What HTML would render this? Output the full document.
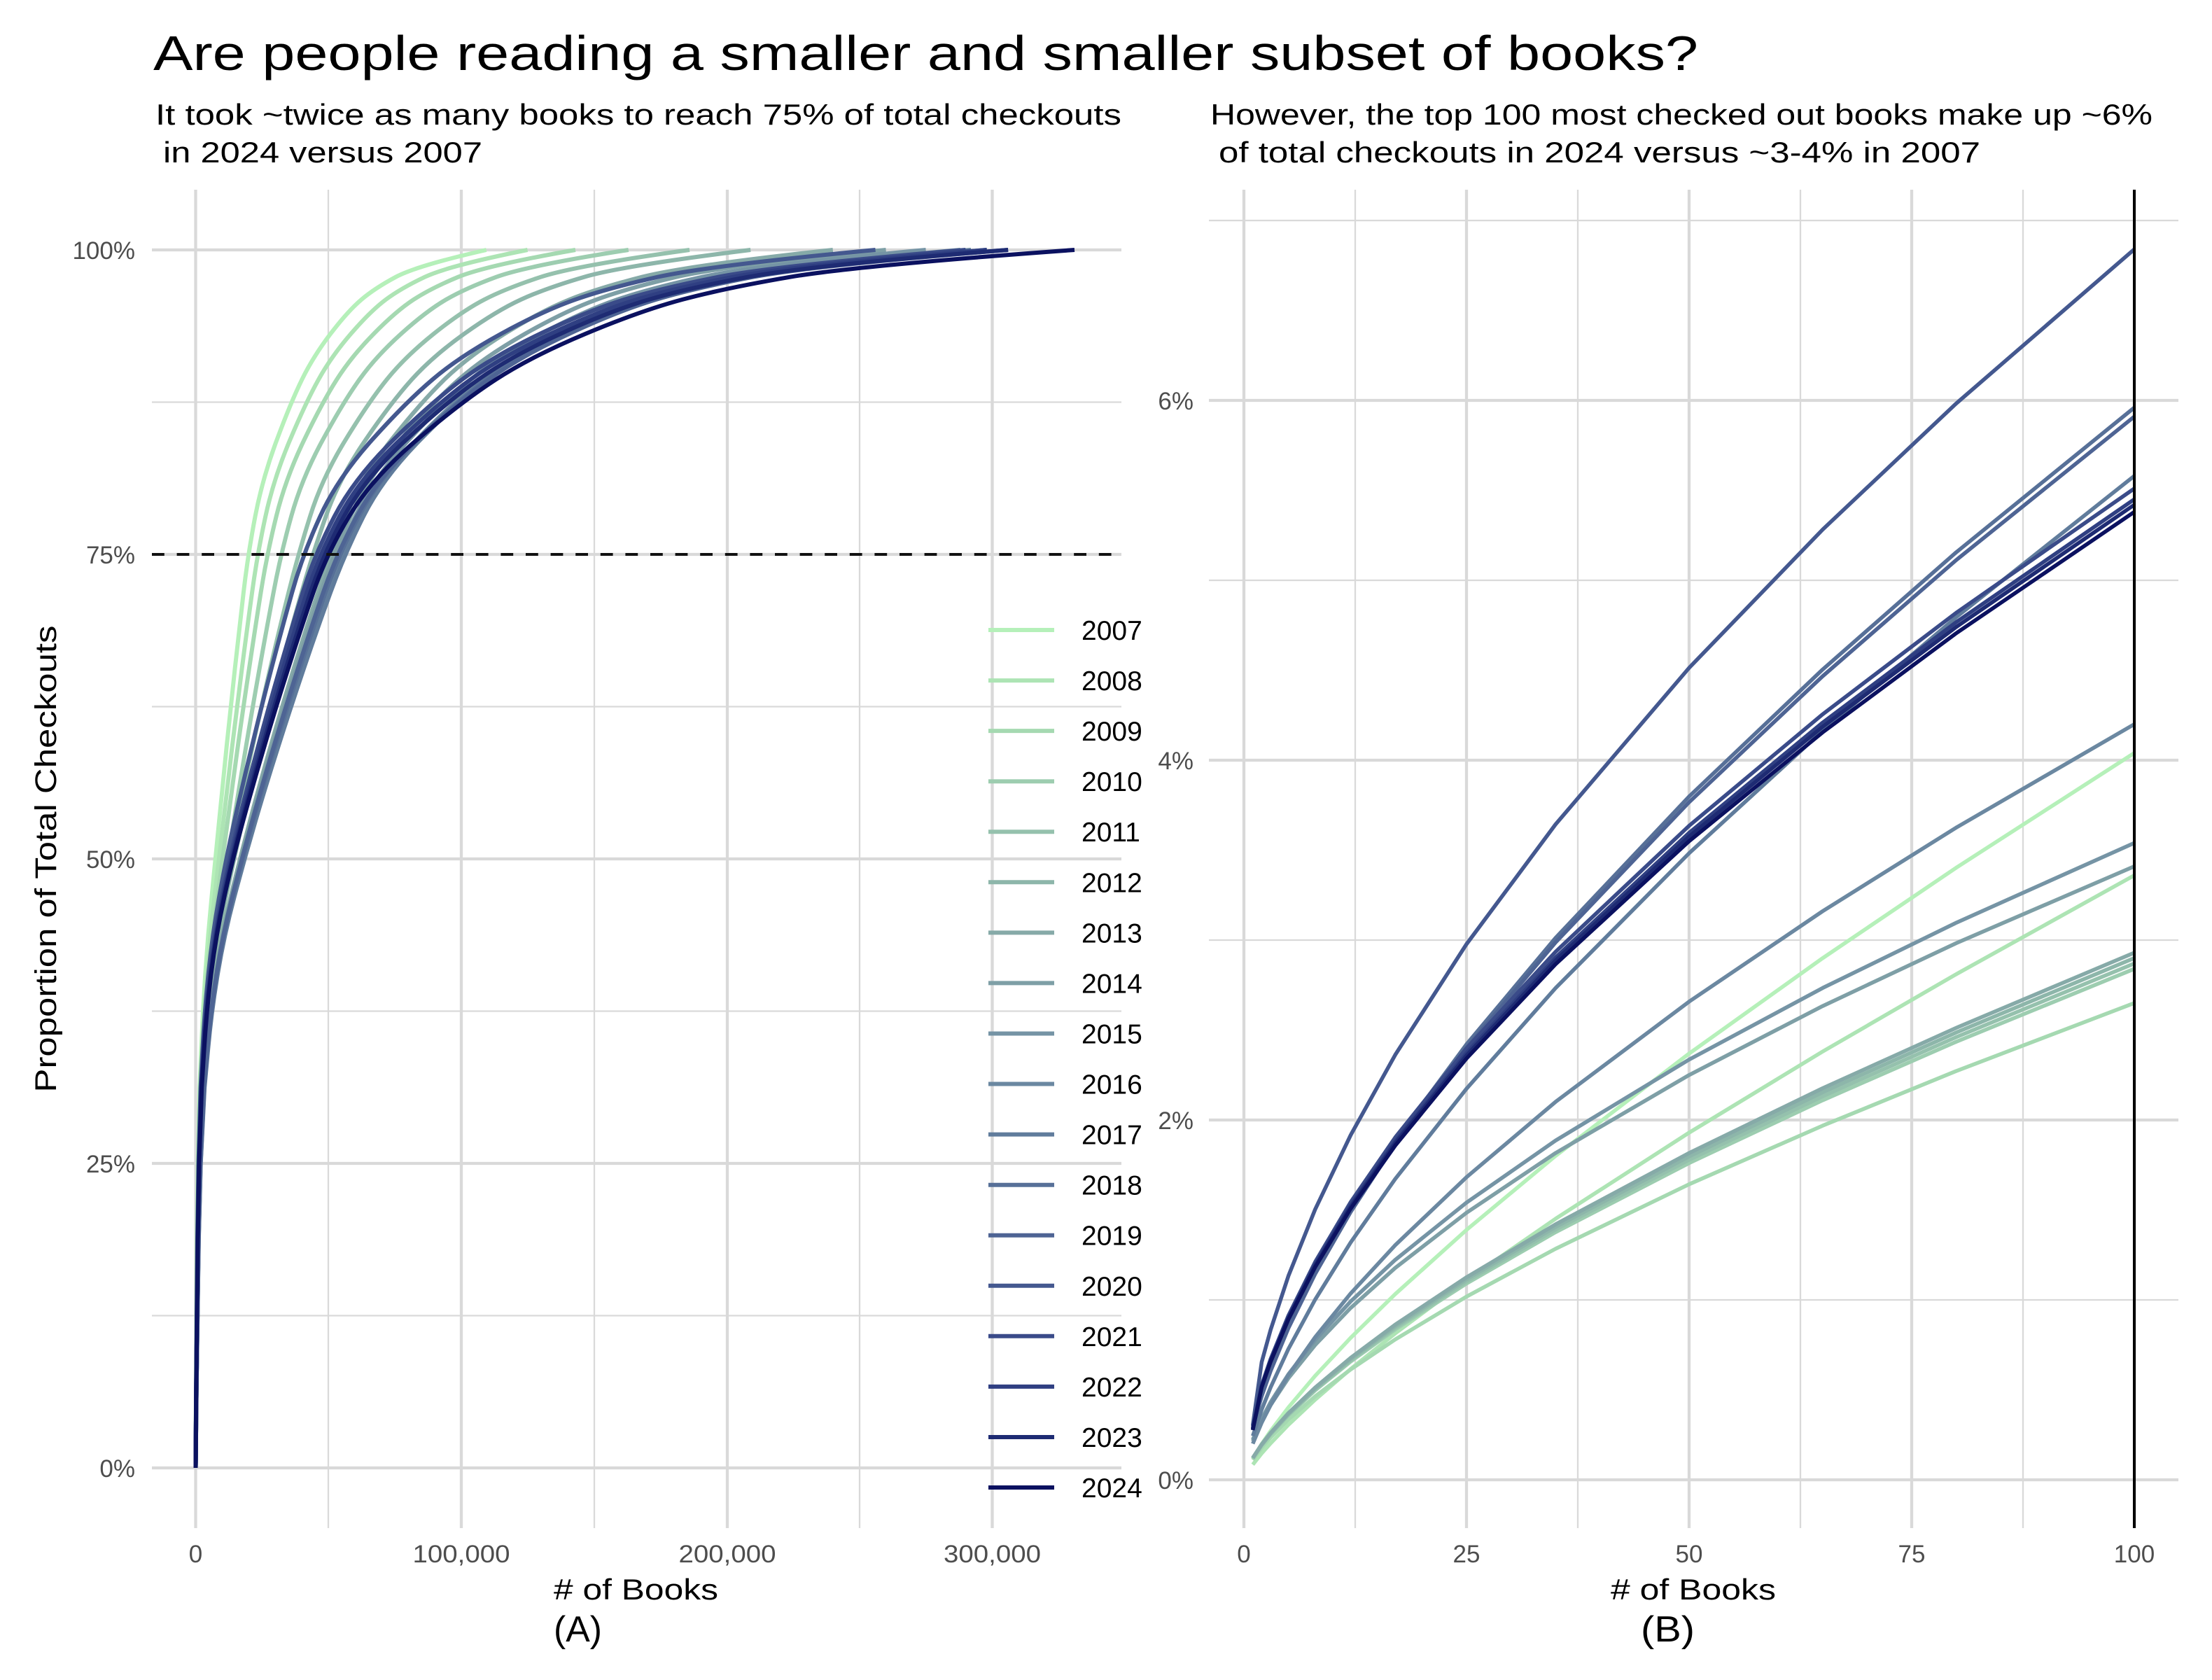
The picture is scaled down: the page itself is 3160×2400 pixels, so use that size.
<!DOCTYPE html>
<html>
<head>
<meta charset="utf-8">
<style>
html,body{margin:0;padding:0;background:#fff;}
svg{display:block;}
text{font-family:"Liberation Sans",sans-serif;}
</style>
</head>
<body>
<svg xmlns="http://www.w3.org/2000/svg" width="3160" height="2400" viewBox="0 0 3160 2400">
<rect width="3160" height="2400" fill="#fff"/>

<!-- Titles -->
<text x="219" y="100" font-size="70" fill="#000" textLength="2207" lengthAdjust="spacingAndGlyphs">Are people reading a smaller and smaller subset of books?</text>
<text x="222" y="178" font-size="42" fill="#000" textLength="1380" lengthAdjust="spacingAndGlyphs">It took ~twice as many books to reach 75% of total checkouts</text>
<text x="233" y="232" font-size="42" fill="#000" textLength="456" lengthAdjust="spacingAndGlyphs">in 2024 versus 2007</text>
<text x="1729" y="178" font-size="42" fill="#000" textLength="1346" lengthAdjust="spacingAndGlyphs">However, the top 100 most checked out books make up ~6%</text>
<text x="1741" y="232" font-size="42" fill="#000" textLength="1088" lengthAdjust="spacingAndGlyphs">of total checkouts in 2024 versus ~3-4% in 2007</text>

<!-- Panel A grid -->
<g stroke="#d9d9d9" fill="none">
  <g stroke-width="2.3">
    <line x1="469" y1="271" x2="469" y2="2183"/>
    <line x1="849" y1="271" x2="849" y2="2183"/>
    <line x1="1228" y1="271" x2="1228" y2="2183"/>
    <line x1="217" y1="1879.5" x2="1602" y2="1879.5"/>
    <line x1="217" y1="1444.5" x2="1602" y2="1444.5"/>
    <line x1="217" y1="1009.5" x2="1602" y2="1009.5"/>
    <line x1="217" y1="574.5" x2="1602" y2="574.5"/>
  </g>
  <g stroke-width="4.3">
    <line x1="279.5" y1="271" x2="279.5" y2="2183"/>
    <line x1="659" y1="271" x2="659" y2="2183"/>
    <line x1="1039" y1="271" x2="1039" y2="2183"/>
    <line x1="1417.5" y1="271" x2="1417.5" y2="2183"/>
    <line x1="217" y1="2097" x2="1602" y2="2097"/>
    <line x1="217" y1="1662" x2="1602" y2="1662"/>
    <line x1="217" y1="1227" x2="1602" y2="1227"/>
    <line x1="217" y1="792" x2="1602" y2="792"/>
    <line x1="217" y1="357" x2="1602" y2="357"/>
  </g>
</g>

<!-- Panel B grid -->
<g stroke="#d9d9d9" fill="none">
  <g stroke-width="2.3">
    <line x1="1936" y1="271" x2="1936" y2="2183"/>
    <line x1="2254" y1="271" x2="2254" y2="2183"/>
    <line x1="2572" y1="271" x2="2572" y2="2183"/>
    <line x1="2890" y1="271" x2="2890" y2="2183"/>
    <line x1="1727" y1="1857" x2="3112" y2="1857"/>
    <line x1="1727" y1="1343" x2="3112" y2="1343"/>
    <line x1="1727" y1="829" x2="3112" y2="829"/>
    <line x1="1727" y1="315" x2="3112" y2="315"/>
  </g>
  <g stroke-width="4.3">
    <line x1="1777" y1="271" x2="1777" y2="2183"/>
    <line x1="2095" y1="271" x2="2095" y2="2183"/>
    <line x1="2413" y1="271" x2="2413" y2="2183"/>
    <line x1="2731" y1="271" x2="2731" y2="2183"/>
    <line x1="3049" y1="271" x2="3049" y2="2183"/>
    <line x1="1727" y1="2114" x2="3112" y2="2114"/>
    <line x1="1727" y1="1600" x2="3112" y2="1600"/>
    <line x1="1727" y1="1086" x2="3112" y2="1086"/>
    <line x1="1727" y1="572" x2="3112" y2="572"/>
  </g>
</g>

<!-- Panel A curves -->
<g fill="none" stroke-width="6" stroke-linejoin="round" stroke-linecap="butt">
<path stroke="#b5f0b9" d="M279.5,2097 L280.0,1988.25 L280.7,1879.5 L281.4,1770.75 L282.7,1662 L285.2,1553.25 L287.5,1498.9 Q289.7,1444.5 293.4,1390.1 Q297.0,1335.75 302.4,1281.4 Q307.8,1227 313.1,1172.6 Q318.4,1118.25 324.0,1063.9 Q329.6,1009.5 335.6,955.1 Q341.6,900.75 347.9,846.4 Q354.2,792 364.6,737.6 Q375.0,683.25 395.3,628.9 Q415.5,574.5 431.5,541.9 Q447.5,509.25 472.4,476.6 Q497.3,444 516.4,427.9 Q535.4,411.8 565.4,395.7 Q595.4,379.6 694.8,357"/>
<path stroke="#ade4b4" d="M279.5,2097 L280.1,1988.25 L280.9,1879.5 L281.8,1770.75 L283.3,1662 L286.2,1553.25 L288.9,1498.9 Q291.5,1444.5 295.8,1390.1 Q300.1,1335.75 306.5,1281.4 Q312.9,1227 319.2,1172.6 Q325.4,1118.25 332.0,1063.9 Q338.6,1009.5 345.6,955.1 Q352.6,900.75 360.1,846.4 Q367.5,792 379.3,737.6 Q391.1,683.25 414.1,628.9 Q437.0,574.5 455.2,541.9 Q473.3,509.25 501.5,476.6 Q529.7,444 551.3,427.9 Q572.9,411.8 606.9,395.7 Q640.9,379.6 753.6,357"/>
<path stroke="#a5d9b1" d="M279.5,2097 L280.2,1988.25 L281.1,1879.5 L282.1,1770.75 L283.9,1662 L287.3,1553.25 L290.3,1498.9 Q293.3,1444.5 298.4,1390.1 Q303.4,1335.75 310.7,1281.4 Q318.0,1227 325.3,1172.6 Q332.5,1118.25 340.1,1063.9 Q347.7,1009.5 355.9,955.1 Q364.0,900.75 372.6,846.4 Q381.2,792 394.7,737.6 Q408.1,683.25 434.3,628.9 Q460.5,574.5 481.3,541.9 Q502.0,509.25 534.2,476.6 Q566.3,444 591.0,427.9 Q615.7,411.8 654.5,395.7 Q693.3,379.6 822.0,357"/>
<path stroke="#9dcdb0" d="M279.5,2097 L280.3,1988.25 L281.4,1879.5 L282.6,1770.75 L284.7,1662 L288.8,1553.25 L292.4,1498.9 Q296.0,1444.5 302.0,1390.1 Q308.0,1335.75 316.8,1281.4 Q325.5,1227 334.1,1172.6 Q342.7,1118.25 351.9,1063.9 Q361.0,1009.5 370.7,955.1 Q380.4,900.75 390.7,846.4 Q400.9,792 416.1,737.6 Q431.2,683.25 460.8,628.9 Q490.3,574.5 513.7,541.9 Q537.0,509.25 573.3,476.6 Q609.6,444 637.4,427.9 Q665.2,411.8 709.0,395.7 Q752.7,379.6 897.8,357"/>
<path stroke="#95c1ad" d="M279.5,2097 L280.3,1988.25 L281.4,1879.5 L282.5,1770.75 L284.5,1662 L288.2,1553.25 L291.7,1498.9 Q295.1,1444.5 301.3,1390.1 Q307.5,1335.75 317.5,1281.4 Q327.5,1227 338.5,1172.6 Q349.4,1118.25 361.4,1063.9 Q373.3,1009.5 386.0,955.1 Q398.6,900.75 412.3,846.4 Q425.9,792 443.0,737.6 Q460.0,683.25 493.3,628.9 Q526.5,574.5 552.8,541.9 Q579.1,509.25 619.9,476.6 Q660.7,444 692.0,427.9 Q723.3,411.8 772.5,395.7 Q821.7,379.6 985.0,357"/>
<path stroke="#8db6aa" d="M279.5,2097 L280.4,1988.25 L281.6,1879.5 L282.9,1770.75 L285.2,1662 L289.5,1553.25 L293.4,1498.9 Q297.2,1444.5 304.3,1390.1 Q311.4,1335.75 322.8,1281.4 Q334.2,1227 346.7,1172.6 Q359.2,1118.25 372.8,1063.9 Q386.4,1009.5 400.9,955.1 Q415.3,900.75 430.9,846.4 Q446.4,792 465.5,737.6 Q484.6,683.25 521.9,628.9 Q559.1,574.5 588.5,541.9 Q617.9,509.25 663.6,476.6 Q709.3,444 744.4,427.9 Q779.4,411.8 834.5,395.7 Q889.5,379.6 1072.2,357"/>
<path stroke="#86aaa8" d="M279.5,2097 L280.6,1988.25 L282.0,1879.5 L283.5,1770.75 L286.1,1662 L291.0,1553.25 L295.5,1498.9 Q300.0,1444.5 308.2,1390.1 Q316.4,1335.75 329.5,1281.4 Q342.6,1227 357.1,1172.6 Q371.5,1118.25 387.2,1063.9 Q402.9,1009.5 419.6,955.1 Q436.3,900.75 454.3,846.4 Q472.2,792 494.1,737.6 Q516.0,683.25 558.7,628.9 Q601.4,574.5 635.1,541.9 Q668.8,509.25 721.2,476.6 Q773.6,444 813.8,427.9 Q854.0,411.8 917.2,395.7 Q980.3,379.6 1189.8,357"/>
<path stroke="#7e9fa6" d="M279.5,2097 L280.6,1988.25 L282.0,1879.5 L283.5,1770.75 L286.2,1662 L291.3,1553.25 L295.9,1498.9 Q300.5,1444.5 308.9,1390.1 Q317.3,1335.75 330.7,1281.4 Q344.1,1227 358.9,1172.6 Q373.7,1118.25 389.8,1063.9 Q405.8,1009.5 422.9,955.1 Q440.0,900.75 458.4,846.4 Q476.7,792 500.8,737.6 Q524.8,683.25 571.8,628.9 Q618.7,574.5 655.8,541.9 Q692.9,509.25 750.5,476.6 Q808.1,444 852.3,427.9 Q896.4,411.8 965.9,395.7 Q1035.3,379.6 1265.6,357"/>
<path stroke="#7594a5" d="M279.5,2097 L280.6,1988.25 L282.1,1879.5 L283.7,1770.75 L286.4,1662 L291.6,1553.25 L296.3,1498.9 Q301.0,1444.5 309.7,1390.1 Q318.3,1335.75 332.1,1281.4 Q345.8,1227 361.0,1172.6 Q376.2,1118.25 392.7,1063.9 Q409.2,1009.5 426.8,955.1 Q444.3,900.75 463.2,846.4 Q482.1,792 507.8,737.6 Q533.4,683.25 583.4,628.9 Q633.4,574.5 672.9,541.9 Q712.4,509.25 773.8,476.6 Q835.1,444 882.2,427.9 Q929.3,411.8 1003.3,395.7 Q1077.2,379.6 1322.6,357"/>
<path stroke="#6b88a1" d="M279.5,2097 L280.6,1988.25 L282.2,1879.5 L283.8,1770.75 L286.6,1662 L291.9,1553.25 L296.8,1498.9 Q301.7,1444.5 310.6,1390.1 Q319.4,1335.75 333.6,1281.4 Q347.8,1227 363.5,1172.6 Q379.1,1118.25 396.1,1063.9 Q413.1,1009.5 431.2,955.1 Q449.2,900.75 468.7,846.4 Q488.1,792 515.1,737.6 Q542.0,683.25 594.6,628.9 Q647.2,574.5 688.8,541.9 Q730.3,509.25 794.8,476.6 Q859.3,444 908.8,427.9 Q958.3,411.8 1036.1,395.7 Q1113.8,379.6 1371.9,357"/>
<path stroke="#607c9c" d="M279.5,2097 L280.7,1988.25 L282.2,1879.5 L283.9,1770.75 L286.7,1662 L292.2,1553.25 L297.2,1498.9 Q302.1,1444.5 311.2,1390.1 Q320.2,1335.75 334.7,1281.4 Q349.1,1227 365.0,1172.6 Q380.9,1118.25 398.3,1063.9 Q415.6,1009.5 434.0,955.1 Q452.3,900.75 472.1,846.4 Q491.9,792 519.2,737.6 Q546.5,683.25 599.8,628.9 Q653.0,574.5 695.1,541.9 Q737.2,509.25 802.6,476.6 Q867.9,444 918.0,427.9 Q968.1,411.8 1046.9,395.7 Q1125.7,379.6 1387.1,357"/>
<path stroke="#577098" d="M279.5,2097 L280.6,1988.25 L282.1,1879.5 L283.7,1770.75 L286.5,1662 L291.7,1553.25 L296.5,1498.9 Q301.3,1444.5 310.0,1390.1 Q318.7,1335.75 332.7,1281.4 Q346.6,1227 362.0,1172.6 Q377.3,1118.25 394.0,1063.9 Q410.7,1009.5 428.4,955.1 Q446.1,900.75 465.2,846.4 Q484.3,792 512.6,737.6 Q540.8,683.25 595.9,628.9 Q650.9,574.5 694.4,541.9 Q737.9,509.25 805.5,476.6 Q873.0,444 924.9,427.9 Q976.7,411.8 1058.1,395.7 Q1139.5,379.6 1409.8,357"/>
<path stroke="#4e6494" d="M279.5,2097 L280.6,1988.25 L282.1,1879.5 L283.6,1770.75 L286.4,1662 L291.5,1553.25 L296.2,1498.9 Q300.9,1444.5 309.5,1390.1 Q318.0,1335.75 331.7,1281.4 Q345.3,1227 360.4,1172.6 Q375.5,1118.25 391.9,1063.9 Q408.3,1009.5 425.7,955.1 Q443.0,900.75 461.8,846.4 Q480.5,792 509.8,737.6 Q539.0,683.25 596.1,628.9 Q653.2,574.5 698.3,541.9 Q743.4,509.25 813.5,476.6 Q883.5,444 937.3,427.9 Q991.0,411.8 1075.5,395.7 Q1159.9,379.6 1440.1,357"/>
<path stroke="#44588f" d="M279.5,2097 L280.2,1988.25 L281.1,1879.5 L282.0,1770.75 L283.6,1662 L286.6,1553.25 L289.4,1498.9 Q292.2,1444.5 297.8,1390.1 Q303.4,1335.75 313.1,1281.4 Q322.8,1227 335.0,1172.6 Q347.2,1118.25 360.4,1063.9 Q373.5,1009.5 387.7,955.1 Q401.9,900.75 417.2,846.4 Q432.4,792 457.4,737.6 Q482.3,683.25 531.0,628.9 Q579.7,574.5 618.2,541.9 Q656.6,509.25 716.3,476.6 Q776.0,444 821.9,427.9 Q867.7,411.8 939.7,395.7 Q1011.6,379.6 1250.6,357"/>
<path stroke="#3a4b89" d="M279.5,2097 L280.2,1988.25 L281.3,1879.5 L282.3,1770.75 L284.1,1662 L287.4,1553.25 L290.5,1498.9 Q293.6,1444.5 299.8,1390.1 Q306.0,1335.75 316.8,1281.4 Q327.6,1227 341.2,1172.6 Q354.8,1118.25 369.4,1063.9 Q384.0,1009.5 399.8,955.1 Q415.6,900.75 432.5,846.4 Q449.4,792 477.8,737.6 Q506.1,683.25 561.5,628.9 Q616.8,574.5 660.5,541.9 Q704.2,509.25 772.1,476.6 Q840.0,444 892.1,427.9 Q944.2,411.8 1026.1,395.7 Q1107.9,379.6 1379.4,357"/>
<path stroke="#2f3f82" d="M279.5,2097 L280.3,1988.25 L281.3,1879.5 L282.4,1770.75 L284.3,1662 L287.7,1553.25 L290.9,1498.9 Q294.1,1444.5 300.6,1390.1 Q307.0,1335.75 318.2,1281.4 Q329.4,1227 343.5,1172.6 Q357.6,1118.25 372.8,1063.9 Q388.0,1009.5 404.4,955.1 Q420.8,900.75 438.4,846.4 Q455.9,792 485.0,737.6 Q514.1,683.25 570.9,628.9 Q627.6,574.5 672.5,541.9 Q717.3,509.25 787.0,476.6 Q856.6,444 910.0,427.9 Q963.4,411.8 1047.4,395.7 Q1131.3,379.6 1409.8,357"/>
<path stroke="#1e2b73" d="M279.5,2097 L280.3,1988.25 L281.4,1879.5 L282.5,1770.75 L284.4,1662 L288.0,1553.25 L291.3,1498.9 Q294.6,1444.5 301.3,1390.1 Q307.9,1335.75 319.5,1281.4 Q331.0,1227 345.6,1172.6 Q360.2,1118.25 375.9,1063.9 Q391.5,1009.5 408.4,955.1 Q425.3,900.75 443.5,846.4 Q461.6,792 491.5,737.6 Q521.3,683.25 579.5,628.9 Q637.7,574.5 683.7,541.9 Q729.7,509.25 801.2,476.6 Q872.6,444 927.4,427.9 Q982.2,411.8 1068.3,395.7 Q1154.4,379.6 1440.2,357"/>
<path stroke="#0b1160" d="M279.5,2097 L280.3,1988.25 L281.4,1879.5 L282.6,1770.75 L284.5,1662 L288.2,1553.25 L291.6,1498.9 Q295.0,1444.5 301.8,1390.1 Q308.6,1335.75 320.5,1281.4 Q332.3,1227 347.3,1172.6 Q362.2,1118.25 378.3,1063.9 Q394.3,1009.5 411.7,955.1 Q429.0,900.75 447.6,846.4 Q466.1,792 498.7,737.6 Q531.3,683.25 594.9,628.9 Q658.5,574.5 708.8,541.9 Q759.0,509.25 837.0,476.6 Q915.0,444 974.9,427.9 Q1034.7,411.8 1128.8,395.7 Q1222.9,379.6 1535.0,357"/>
</g>

<!-- Panel B curves -->
<g fill="none" stroke-width="5.5" stroke-linejoin="round" stroke-linecap="butt">
<polyline stroke="#b5f0b9" points="1789.7,2084.1 1802.4,2062.9 1815.2,2044.2 1840.6,2010.6 1878.8,1965.5 1929.6,1911.1 1993.2,1848.7 2095,1757.0 2222.2,1651.3 2413,1505.1 2603.8,1368.8 2794.6,1239.6 3049,1075.7"/>
<polyline stroke="#ade4b4" points="1789.7,2092.3 1802.4,2076.2 1815.2,2061.8 1840.6,2035.4 1878.8,1999.5 1929.6,1955.7 1993.2,1904.8 2095,1829.1 2222.2,1741.1 2413,1618.1 2603.8,1502.2 2794.6,1391.7 3049,1250.5"/>
<polyline stroke="#a5d9b1" points="1789.7,2085.6 1802.4,2068.2 1815.2,2053.4 1840.6,2027.8 1878.8,1994.8 1929.6,1956.3 1993.2,1913.5 2095,1852.3 2222.2,1784.0 2413,1691.8 2603.8,1608.1 2794.6,1530.1 3049,1432.9"/>
<polyline stroke="#9dcdb0" points="1789.7,2083.6 1802.4,2064.9 1815.2,2049.1 1840.6,2021.6 1878.8,1986.2 1929.6,1945.0 1993.2,1899.1 2095,1833.6 2222.2,1760.3 2413,1661.5 2603.8,1571.8 2794.6,1488.2 3049,1384.1"/>
<polyline stroke="#95c1ad" points="1789.7,2083.3 1802.4,2064.4 1815.2,2048.4 1840.6,2020.7 1878.8,1984.9 1929.6,1943.2 1993.2,1896.8 2095,1830.6 2222.2,1756.5 2413,1656.8 2603.8,1566.1 2794.6,1481.6 3049,1376.4"/>
<polyline stroke="#8db6aa" points="1789.7,2082.9 1802.4,2063.9 1815.2,2047.7 1840.6,2019.7 1878.8,1983.5 1929.6,1941.4 1993.2,1894.6 2095,1827.6 2222.2,1752.8 2413,1652.0 2603.8,1560.4 2794.6,1475.0 3049,1368.7"/>
<polyline stroke="#86aaa8" points="1789.7,2082.6 1802.4,2063.3 1815.2,2047.0 1840.6,2018.7 1878.8,1982.2 1929.6,1939.7 1993.2,1892.3 2095,1824.7 2222.2,1749.1 2413,1647.2 2603.8,1554.6 2794.6,1468.4 3049,1361.0"/>
<polyline stroke="#7e9fa6" points="1789.7,2058.7 1802.4,2030.2 1815.2,2007.1 1840.6,1968.8 1878.8,1921.4 1929.6,1868.4 1993.2,1811.3 2095,1732.5 2222.2,1647.2 2413,1535.8 2603.8,1437.2 2794.6,1347.4 3049,1237.6"/>
<polyline stroke="#7594a5" points="1789.7,2056.6 1802.4,2027.0 1815.2,2003.1 1840.6,1963.2 1878.8,1914.1 1929.6,1859.1 1993.2,1799.8 2095,1718.0 2222.2,1629.4 2413,1513.7 2603.8,1411.4 2794.6,1318.2 3049,1204.2"/>
<polyline stroke="#6b88a1" points="1789.7,2062.4 1802.4,2032.4 1815.2,2007.3 1840.6,1964.6 1878.8,1910.2 1929.6,1847.7 1993.2,1778.8 2095,1681.7 2222.2,1574.1 2413,1430.9 2603.8,1301.7 2794.6,1182.3 3049,1034.6"/>
<polyline stroke="#607c9c" points="1789.7,2051.4 1802.4,2013.7 1815.2,1981.9 1840.6,1927.0 1878.8,1856.5 1929.6,1774.8 1993.2,1684.2 2095,1555.3 2222.2,1411.6 2413,1218.9 2603.8,1044.0 2794.6,881.7 3049,679.9"/>
<polyline stroke="#577098" points="1789.7,2037.2 1802.4,1993.5 1815.2,1957.2 1840.6,1895.5 1878.8,1817.4 1929.6,1728.0 1993.2,1629.9 2095,1491.9 2222.2,1339.9 2413,1137.9 2603.8,956.4 2794.6,789.0 3049,582.3"/>
<polyline stroke="#4e6494" points="1789.7,2037.9 1802.4,1994.6 1815.2,1958.5 1840.6,1897.3 1878.8,1819.9 1929.6,1731.2 1993.2,1633.9 2095,1497.1 2222.2,1346.3 2413,1146.0 2603.8,966.0 2794.6,800.1 3049,595.1"/>
<polyline stroke="#44588f" points="1789.7,2036.0 1802.4,1945.9 1815.2,1899.6 1840.6,1822.7 1878.8,1727.7 1929.6,1621.4 1993.2,1506.9 2095,1348.8 2222.2,1177.7 2413,954.1 2603.8,756.5 2794.6,576.4 3049,356.1"/>
<polyline stroke="#3a4b89" points="1789.7,2040.0 1802.4,1978.6 1815.2,1941.3 1840.6,1879.3 1878.8,1802.8 1929.6,1717.2 1993.2,1624.9 2095,1497.6 2222.2,1359.7 2413,1179.7 2603.8,1020.4 2794.6,875.4 3049,697.9"/>
<polyline stroke="#2f3f82" points="1789.7,2041.0 1802.4,1980.0 1815.2,1943.2 1840.6,1881.9 1878.8,1806.2 1929.6,1721.5 1993.2,1630.3 2095,1504.3 2222.2,1367.9 2413,1189.8 2603.8,1032.3 2794.6,888.8 3049,713.3"/>
<polyline stroke="#1e2b73" points="1789.7,2042.0 1802.4,1980.8 1815.2,1944.1 1840.6,1883.2 1878.8,1807.9 1929.6,1723.7 1993.2,1632.9 2095,1507.7 2222.2,1372.1 2413,1195.0 2603.8,1038.3 2794.6,895.7 3049,721.1"/>
<polyline stroke="#0b1160" points="1789.7,2043.0 1802.4,1981.8 1815.2,1945.4 1840.6,1884.8 1878.8,1810.2 1929.6,1726.5 1993.2,1636.5 2095,1512.1 2222.2,1377.5 2413,1201.7 2603.8,1046.2 2794.6,904.6 3049,731.3"/>
</g>

<!-- 75% dashed line -->
<line x1="217" y1="792" x2="1602" y2="792" stroke="#111" stroke-width="4" stroke-dasharray="17.8 17.8"/>
<!-- 100 books vertical line -->
<line x1="3049" y1="271" x2="3049" y2="2183" stroke="#000" stroke-width="4"/>

<!-- Axis tick labels -->
<g font-size="35" fill="#4d4d4d" text-anchor="end">
  <text x="193" y="370">100%</text>
  <text x="193" y="805">75%</text>
  <text x="193" y="1240">50%</text>
  <text x="193" y="1675">25%</text>
  <text x="193" y="2110">0%</text>
  <text x="1705" y="585">6%</text>
  <text x="1705" y="1099">4%</text>
  <text x="1705" y="1613">2%</text>
  <text x="1705" y="2127">0%</text>
</g>
<g font-size="35" fill="#4d4d4d" text-anchor="middle">
  <text x="279.5" y="2232">0</text>
  <text x="659" y="2232" textLength="139" lengthAdjust="spacingAndGlyphs">100,000</text>
  <text x="1039" y="2232" textLength="139" lengthAdjust="spacingAndGlyphs">200,000</text>
  <text x="1417.5" y="2232" textLength="139" lengthAdjust="spacingAndGlyphs">300,000</text>
  <text x="1777" y="2232">0</text>
  <text x="2095" y="2232">25</text>
  <text x="2413" y="2232">50</text>
  <text x="2731" y="2232">75</text>
  <text x="3049" y="2232">100</text>
</g>

<!-- Axis titles -->
<text x="791" y="2285" font-size="42" fill="#000" textLength="235" lengthAdjust="spacingAndGlyphs">#&#160;of Books</text>
<text x="2301" y="2285" font-size="42" fill="#000" textLength="236" lengthAdjust="spacingAndGlyphs">#&#160;of Books</text>
<text x="791" y="2345" font-size="52" fill="#000" textLength="69" lengthAdjust="spacingAndGlyphs">(A)</text>
<text x="2344" y="2345" font-size="52" fill="#000" textLength="77" lengthAdjust="spacingAndGlyphs">(B)</text>
<text x="80" y="1227" font-size="43" fill="#000" text-anchor="middle" transform="rotate(-90 80 1227)" textLength="667" lengthAdjust="spacingAndGlyphs">Proportion of Total Checkouts</text>

<!-- Legend -->
<g stroke-width="6">
  <line x1="1412" x2="1506" y1="900" y2="900" stroke="#b5f0b9"/>
  <line x1="1412" x2="1506" y1="972.1" y2="972.1" stroke="#ade4b4"/>
  <line x1="1412" x2="1506" y1="1044.1" y2="1044.1" stroke="#a5d9b1"/>
  <line x1="1412" x2="1506" y1="1116.2" y2="1116.2" stroke="#9dcdb0"/>
  <line x1="1412" x2="1506" y1="1188.2" y2="1188.2" stroke="#95c1ad"/>
  <line x1="1412" x2="1506" y1="1260.3" y2="1260.3" stroke="#8db6aa"/>
  <line x1="1412" x2="1506" y1="1332.4" y2="1332.4" stroke="#86aaa8"/>
  <line x1="1412" x2="1506" y1="1404.4" y2="1404.4" stroke="#7e9fa6"/>
  <line x1="1412" x2="1506" y1="1476.5" y2="1476.5" stroke="#7594a5"/>
  <line x1="1412" x2="1506" y1="1548.5" y2="1548.5" stroke="#6b88a1"/>
  <line x1="1412" x2="1506" y1="1620.6" y2="1620.6" stroke="#607c9c"/>
  <line x1="1412" x2="1506" y1="1692.7" y2="1692.7" stroke="#577098"/>
  <line x1="1412" x2="1506" y1="1764.7" y2="1764.7" stroke="#4e6494"/>
  <line x1="1412" x2="1506" y1="1836.8" y2="1836.8" stroke="#44588f"/>
  <line x1="1412" x2="1506" y1="1908.8" y2="1908.8" stroke="#3a4b89"/>
  <line x1="1412" x2="1506" y1="1980.9" y2="1980.9" stroke="#2f3f82"/>
  <line x1="1412" x2="1506" y1="2053" y2="2053" stroke="#1e2b73"/>
  <line x1="1412" x2="1506" y1="2125" y2="2125" stroke="#0b1160"/>
</g>
<g font-size="39" fill="#000">
  <text x="1545" y="914">2007</text>
  <text x="1545" y="986.1">2008</text>
  <text x="1545" y="1058.1">2009</text>
  <text x="1545" y="1130.2">2010</text>
  <text x="1545" y="1202.2">2011</text>
  <text x="1545" y="1274.3">2012</text>
  <text x="1545" y="1346.4">2013</text>
  <text x="1545" y="1418.4">2014</text>
  <text x="1545" y="1490.5">2015</text>
  <text x="1545" y="1562.5">2016</text>
  <text x="1545" y="1634.6">2017</text>
  <text x="1545" y="1706.7">2018</text>
  <text x="1545" y="1778.7">2019</text>
  <text x="1545" y="1850.8">2020</text>
  <text x="1545" y="1922.8">2021</text>
  <text x="1545" y="1994.9">2022</text>
  <text x="1545" y="2067">2023</text>
  <text x="1545" y="2139">2024</text>
</g>
</svg>
</body>
</html>
